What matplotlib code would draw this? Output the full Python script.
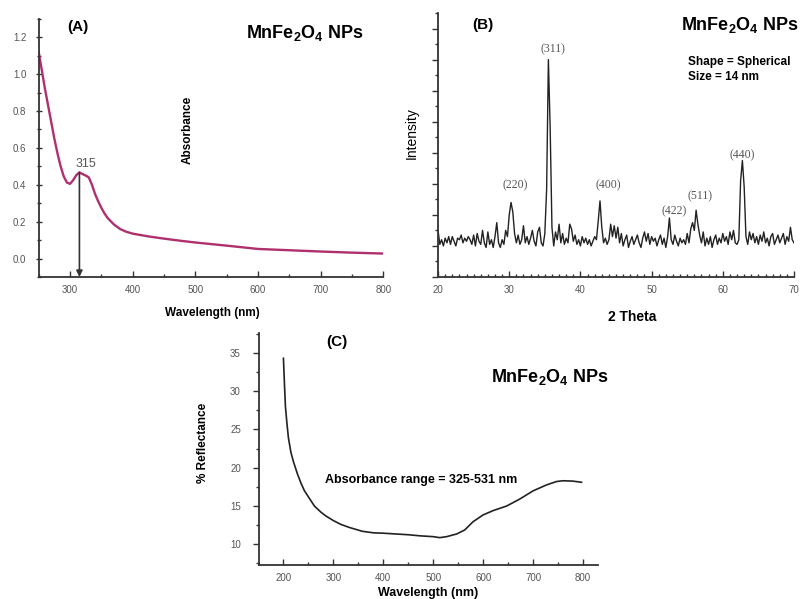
import matplotlib
matplotlib.use("Agg")
import matplotlib.pyplot as plt
from matplotlib.ticker import MultipleLocator

plt.rcParams['font.family'] = ['Liberation Sans', 'DejaVu Sans']
plt.rcParams['mathtext.fontset'] = 'custom'
plt.rcParams['mathtext.rm'] = 'Liberation Sans'
plt.rcParams['mathtext.bf'] = 'Liberation Sans:bold'
plt.rcParams['mathtext.it'] = 'Liberation Sans:italic'

# ---------------- data ----------------
# (A) UV-Vis absorbance
uv_wavelength = [250, 255, 260, 265, 270, 275, 280, 285, 290, 295, 300, 305, 310, 315,
                 320, 325, 330, 335, 340, 345, 350, 355, 360, 370, 380, 390, 400, 425,
                 450, 475, 500, 550, 600, 650, 700, 750, 800]
uv_absorbance = [1.12, 1.02, 0.92, 0.83, 0.74, 0.65, 0.57, 0.50, 0.445, 0.412, 0.405,
                 0.425, 0.452, 0.467, 0.458, 0.45, 0.44, 0.40, 0.35, 0.31, 0.275, 0.245,
                 0.22, 0.185, 0.16, 0.145, 0.135, 0.12, 0.108, 0.097, 0.087, 0.07, 0.052,
                 0.045, 0.038, 0.032, 0.027]
uv_peak = 315
uv_peak_abs = 0.467

# (B) XRD pattern, 2theta from 20 to 70 in 0.25 steps
xrd_start, xrd_step = 20.0, 0.25
xrd_intensity = [
    1.50, 1.05, 1.20, 1.00,  1.25, 1.10, 1.30, 1.05,  1.30, 1.15, 1.00, 1.25,
    1.20, 1.35, 1.10, 1.25,  1.15, 1.30, 1.20, 1.05,  1.35, 1.00, 1.40, 1.15,
    1.05, 1.50, 1.10, 0.95,  1.45, 1.05, 1.20, 0.95,  1.30, 1.75, 1.10, 0.95,
    1.20, 1.05, 1.50, 1.30,  2.00, 2.40, 2.10, 1.40,  1.10, 1.35, 1.05, 1.20,
    1.65, 1.10, 1.30, 1.05,  1.25, 1.50, 1.15, 1.00,  1.45, 1.60, 1.10, 1.00,
    1.40, 2.80, 7.00, 4.80,  1.60, 1.00, 1.45, 1.20,  1.70, 1.10, 1.40, 1.05,
    1.25, 1.10, 1.70, 1.55,  1.15, 1.35, 1.05, 1.20,  1.00, 1.30, 1.10, 1.25,
    1.05, 1.20, 1.00, 1.15,  1.30, 1.20, 1.80, 2.45,  1.60, 1.10, 1.25, 1.05,
    1.20, 1.70, 1.30, 1.65,  1.25, 1.60, 1.10, 1.40,  1.00, 1.20, 1.35, 0.95,
    1.15, 1.30, 1.05, 1.20,  1.35, 1.10, 0.95, 1.25,  1.45, 1.15, 1.40, 1.05,
    1.30, 1.15, 1.25, 1.00,  1.20, 1.35, 1.05, 1.25,  0.95, 1.30, 1.90, 1.20,
    1.05, 1.35, 1.15, 1.00,  1.25, 1.10, 1.20, 1.05,  1.40, 1.10, 1.55, 1.75,
    1.50, 2.15, 1.70, 1.35,  1.10, 1.45, 1.00, 1.25,  1.05, 1.30, 0.95, 1.20,
    1.35, 1.05, 1.25, 1.10,  1.40, 1.15, 1.30, 1.05,  1.45, 1.20, 1.50, 1.10,
    1.05, 1.20, 3.10, 3.75,  2.90, 1.30, 1.05, 1.45,  1.20, 1.40, 1.10, 1.30,
    1.05, 1.35, 1.15, 1.45,  1.10, 1.25, 1.00, 1.30,  1.40, 1.05, 1.20, 1.35,
    1.10, 1.25, 1.40, 1.05,  1.30, 1.15, 1.60, 1.20,  1.10]
xrd_theta = [xrd_start + i * xrd_step for i in range(len(xrd_intensity))]
hkl_labels = ['(220)', '(311)', '(400)', '(422)', '(511)', '(440)']
hkl_x = [30.8, 36.2, 43.9, 53.1, 56.8, 62.7]
hkl_y = [2.96, 7.33, 2.94, 2.13, 2.60, 3.93]

# (C) diffuse reflectance
dr_wavelength = [200, 202, 204, 207, 210, 215, 220, 228, 235, 242, 250, 262, 275, 285,
                 300, 315, 332, 358, 380, 400, 425, 450, 475, 500, 513, 527, 547, 563,
                 580, 600, 620, 647, 673, 700, 727, 747, 760, 780, 797]
dr_reflectance = [34.3, 31.0, 28.0, 25.8, 23.9, 22.0, 20.8, 19.2, 18.0, 17.0, 16.2, 15.0,
                  14.2, 13.7, 13.1, 12.6, 12.2, 11.7, 11.5, 11.45, 11.35, 11.25, 11.1,
                  11.0, 10.87, 11.0, 11.35, 11.87, 12.96, 13.84, 14.4, 15.0, 15.9, 16.98,
                  17.76, 18.2, 18.3, 18.25, 18.1]

# ---------------- figure ----------------
fig = plt.figure(figsize=(8.03, 5.99), dpi=100)
tick_color = '#555555'
spine_color = '#333333'


def style_axes(ax):
    for s in ['top', 'right']:
        ax.spines[s].set_visible(False)
    for s in ['left', 'bottom']:
        ax.spines[s].set_color(spine_color)
        ax.spines[s].set_linewidth(1.3)
    ax.tick_params(which='both', colors=spine_color, labelcolor=tick_color,
                   labelsize=7, width=1)
    ax.tick_params(which='major', length=4)
    ax.tick_params(which='minor', length=2.5)
    ax.tick_params(axis='x', which='both', direction='in', pad=6)
    ax.tick_params(axis='y', which='both', direction='inout', pad=7)


title = r'MnFe$_\mathbf{2}$O$_\mathbf{4}$ NPs'

# (A)
axA = fig.add_axes([0.0482, 0.5376, 0.429, 0.431])
axA.plot(uv_wavelength, uv_absorbance, color='#B0306E', lw=1.7)
axA.set_xlim(250, 800)
axA.set_ylim(-0.1, 1.3)
axA.xaxis.set_minor_locator(MultipleLocator(50))
axA.yaxis.set_minor_locator(MultipleLocator(0.1))
axA.set_yticks([0.0, 0.2, 0.4, 0.6, 0.8, 1.0, 1.2])
axA.set_xticks([300, 400, 500, 600, 700, 800])
axA.set_yticklabels(['0.0', '0.2', '0.4', '0.6', '0.8', '1.0', '1.2'])
style_axes(axA)
axA.annotate('', xy=(uv_peak, -0.1), xytext=(uv_peak, uv_peak_abs),
             arrowprops=dict(arrowstyle='-|>', color='#333333', lw=1.2,
                             mutation_scale=9, shrinkA=0, shrinkB=0))
axA.text(325, 0.51, str(uv_peak), ha='center', va='center', fontsize=9, color='#555555')

fig.text(0.097, 0.955, '(A)', ha='center', va='center', fontsize=11, fontweight='bold')
fig.text(0.380, 0.945, title, ha='center', va='center', fontsize=13, fontweight='bold')
fig.text(0.234, 0.783, 'Absorbance', rotation=90, ha='center', va='center',
         fontsize=8.5, fontweight='bold')
fig.text(0.264, 0.477, 'Wavelength (nm)', ha='center', va='center', fontsize=8.5,
         fontweight='bold')

# (B)
axB = fig.add_axes([0.5455, 0.5376, 0.4433, 0.4407])
axB.plot(xrd_theta, xrd_intensity, color='#222222', lw=1.0)
axB.set_xlim(20, 70)
axB.set_ylim(0, 8.5)
axB.xaxis.set_major_locator(MultipleLocator(10))
axB.xaxis.set_minor_locator(MultipleLocator(1))
axB.yaxis.set_major_locator(MultipleLocator(1))
axB.yaxis.set_minor_locator(MultipleLocator(0.5))
axB.set_yticklabels([])
style_axes(axB)
axB.tick_params(axis='y', which='both', direction='out')
for lab, x, y in zip(hkl_labels, hkl_x, hkl_y):
    axB.text(x, y, lab, ha='center', va='center', fontsize=8.5, color='#555555',
             family=['Liberation Serif', 'DejaVu Serif'])

fig.text(0.6015, 0.958, '(B)', ha='center', va='center', fontsize=11, fontweight='bold')
fig.text(0.9215, 0.958, title, ha='center', va='center', fontsize=13, fontweight='bold')
fig.text(0.857, 0.8965, 'Shape = Spherical', ha='left', va='center', fontsize=8.5,
         fontweight='bold')
fig.text(0.857, 0.871, 'Size = 14 nm', ha='left', va='center', fontsize=8.5,
         fontweight='bold')
fig.text(0.513, 0.778, 'Intensity', rotation=90, ha='center', va='center', fontsize=10)
fig.text(0.787, 0.471, '2 Theta', ha='center', va='center', fontsize=10,
         fontweight='bold')

# (C)
axC = fig.add_axes([0.3225, 0.0568, 0.4222, 0.3873])
axC.plot(dr_wavelength, dr_reflectance, color='#222222', lw=1.2)
axC.set_xlim(151, 830)
axC.set_ylim(7.3, 37.6)
axC.set_xticks([200, 300, 400, 500, 600, 700, 800])
axC.xaxis.set_minor_locator(MultipleLocator(50))
axC.set_yticks([10, 15, 20, 25, 30, 35])
axC.yaxis.set_minor_locator(MultipleLocator(2.5))
style_axes(axC)
axC.tick_params(axis='y', which='both', direction='out', pad=9)

fig.text(0.4197, 0.429, '(C)', ha='center', va='center', fontsize=11, fontweight='bold')
fig.text(0.685, 0.371, title, ha='center', va='center', fontsize=13, fontweight='bold')
fig.text(0.524, 0.199, 'Absorbance range = 325-531 nm', ha='center', va='center',
         fontsize=9, fontweight='bold')
fig.text(0.253, 0.260, '% Reflectance', rotation=90, ha='center', va='center',
         fontsize=8.5, fontweight='bold')
fig.text(0.533, 0.010, 'Wavelength (nm)', ha='center', va='center', fontsize=9,
         fontweight='bold')

fig.savefig('out.png', dpi=100)
